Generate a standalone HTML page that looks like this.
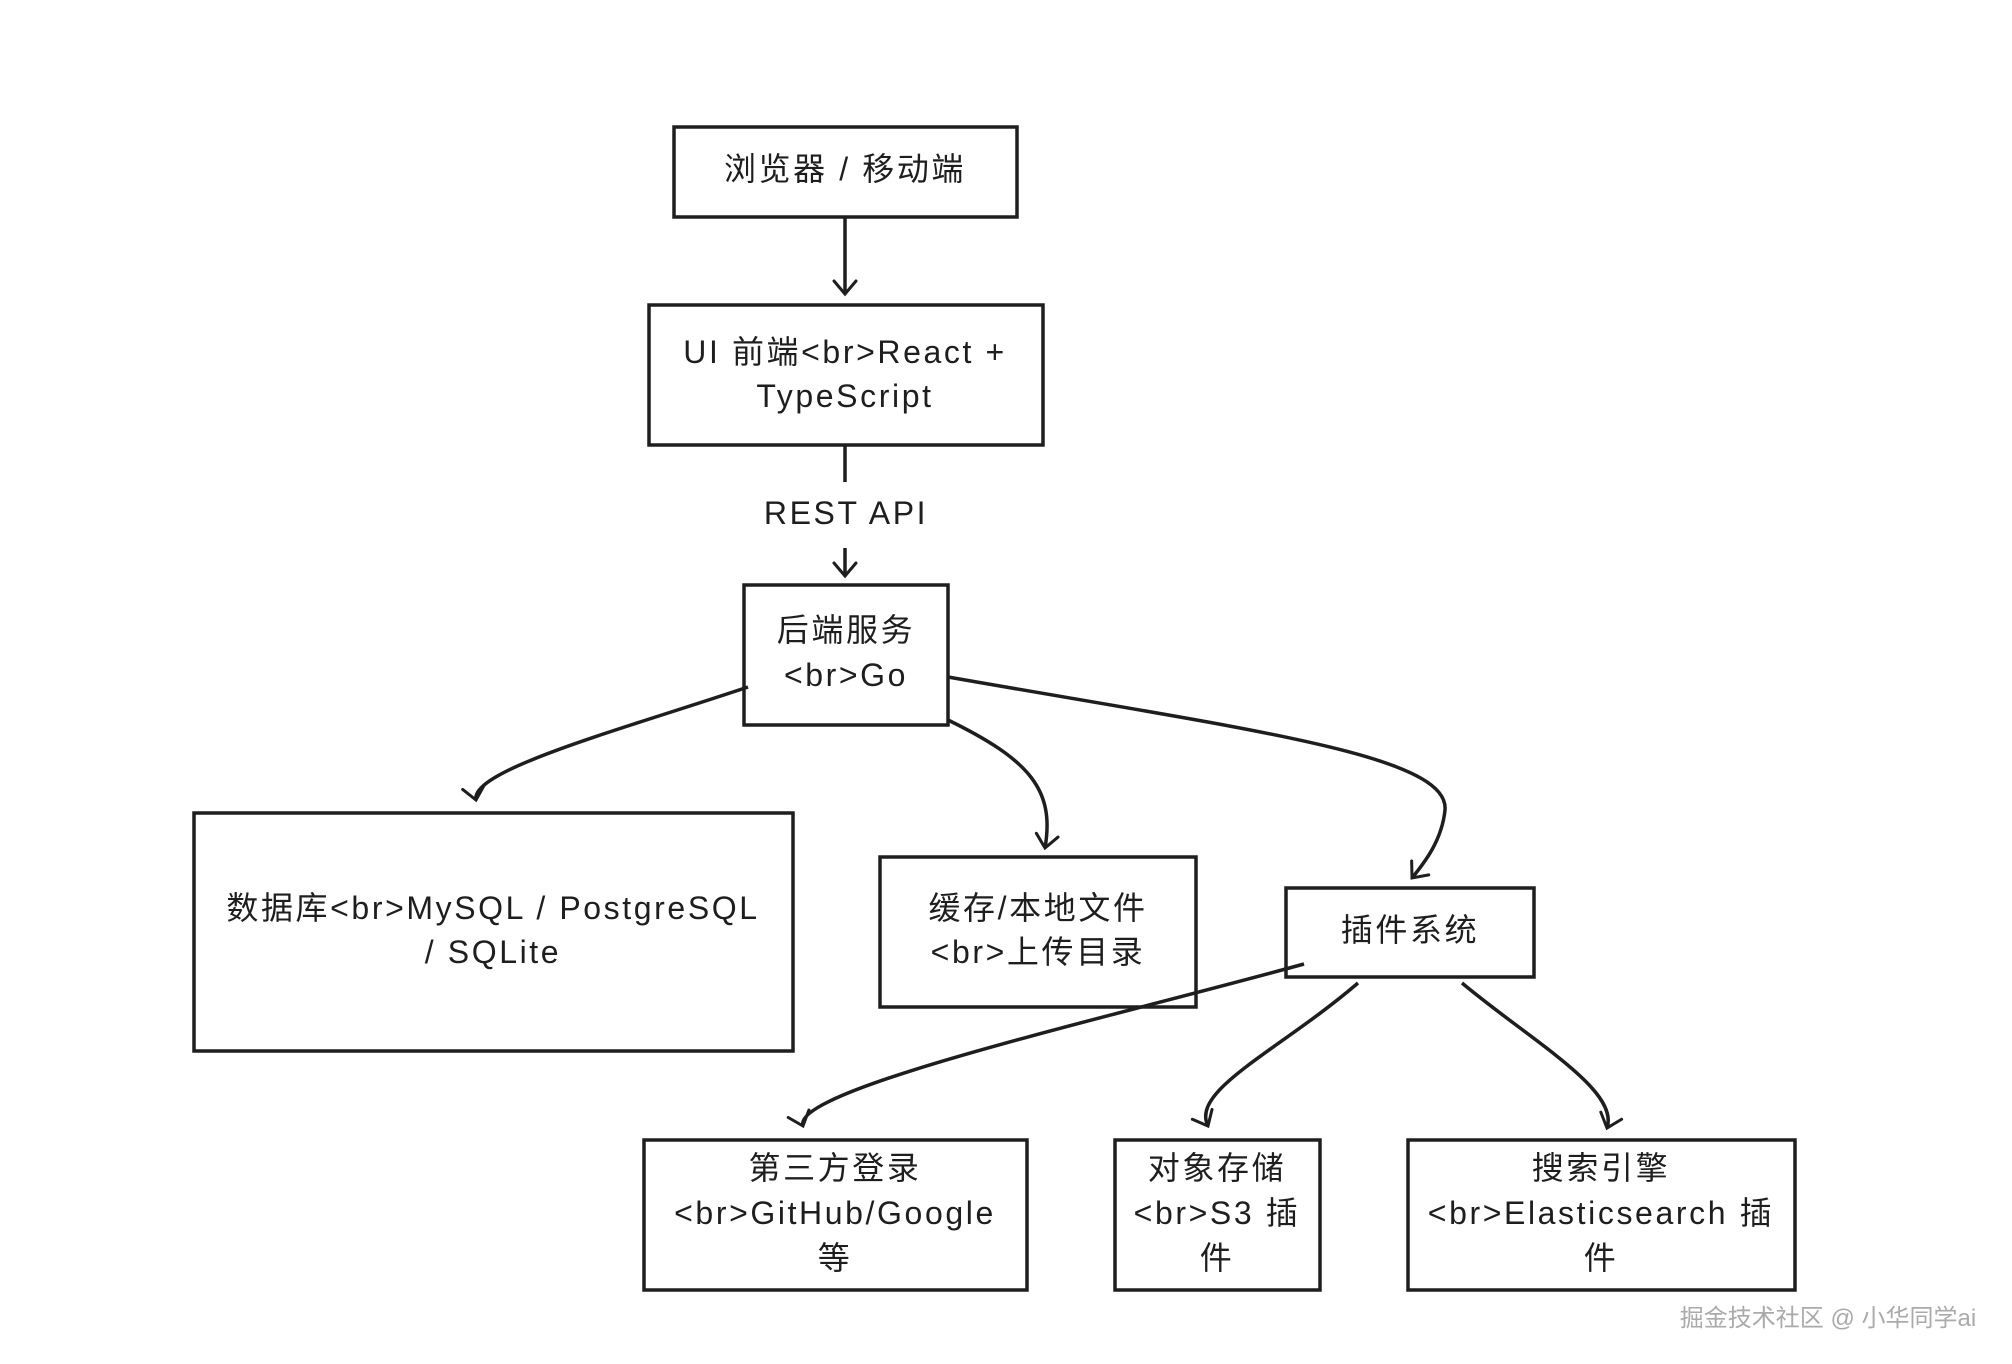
<!DOCTYPE html>
<html><head><meta charset="utf-8"><style>
html,body{margin:0;padding:0;background:#fff}
svg{display:block}
text{font-family:"Liberation Sans","Noto Sans CJK SC",sans-serif;font-size:32px;letter-spacing:2.6px;fill:#1e1e1e;text-anchor:middle}
</style></head><body>
<svg width="2012" height="1364" viewBox="0 0 2012 1364" xmlns="http://www.w3.org/2000/svg">
<defs>
<marker id="a" markerWidth="30" markerHeight="30" refX="15" refY="15" orient="auto" markerUnits="userSpaceOnUse">
<path d="M2,4 L15,15 L2,26" fill="none" stroke="#1e1e1e" stroke-width="3" stroke-linecap="round"/>
</marker>
</defs>
<g fill="none" stroke="#1e1e1e" stroke-width="3.5">
<rect x="674" y="127" width="343" height="90"/>
<rect x="649" y="305" width="394" height="140"/>
<rect x="744" y="585" width="204" height="140"/>
<rect x="194" y="813" width="599" height="238"/>
<rect x="880" y="857" width="316" height="150"/>
<rect x="1286" y="888" width="248" height="89"/>
<rect x="644" y="1140" width="383" height="150"/>
<rect x="1115" y="1140" width="205" height="150"/>
<rect x="1408" y="1140" width="387" height="150"/>
<path d="M845,217 L845,294" marker-end="url(#a)"/>
<path d="M845,446 L845,482"/>
<path d="M845,548 L845,576" marker-end="url(#a)"/>
<path d="M748,687 C620,730 470,770 476,800" marker-end="url(#a)"/>
<path d="M948,720 C1030,760 1055,790 1045,848" marker-end="url(#a)"/>
<path d="M948,677 C1250,730 1450,755 1445,810 C1442,840 1425,862 1412,878" marker-end="url(#a)"/>
<path d="M1304,964 C1100,1020 790,1090 803,1126" marker-end="url(#a)"/>
<path d="M1358,983 C1280,1050 1190,1090 1208,1126" marker-end="url(#a)"/>
<path d="M1462,983 C1530,1040 1620,1090 1607,1128" marker-end="url(#a)"/>
</g>
<text x="845" y="180">浏览器 / 移动端</text>
<text x="845" y="363">UI 前端&lt;br&gt;React +</text>
<text x="845" y="407">TypeScript</text>
<text x="846" y="524">REST API</text>
<text x="846" y="641">后端服务</text>
<text x="846" y="686">&lt;br&gt;Go</text>
<text x="493" y="919">数据库&lt;br&gt;MySQL / PostgreSQL</text>
<text x="493" y="963">/ SQLite</text>
<text x="1038" y="919">缓存/本地文件</text>
<text x="1038" y="963">&lt;br&gt;上传目录</text>
<text x="1410" y="941">插件系统</text>
<text x="835" y="1179">第三方登录</text>
<text x="835" y="1224">&lt;br&gt;GitHub/Google</text>
<text x="835" y="1269">等</text>
<text x="1217" y="1179">对象存储</text>
<text x="1217" y="1224">&lt;br&gt;S3 插</text>
<text x="1217" y="1269">件</text>
<text x="1601" y="1179">搜索引擎</text>
<text x="1601" y="1224">&lt;br&gt;Elasticsearch 插</text>
<text x="1601" y="1269">件</text>
<text x="1828" y="1326" style="font-size:24px;letter-spacing:0;fill:#aaa">掘金技术社区 @ 小华同学ai</text>
</svg>
</body></html>
